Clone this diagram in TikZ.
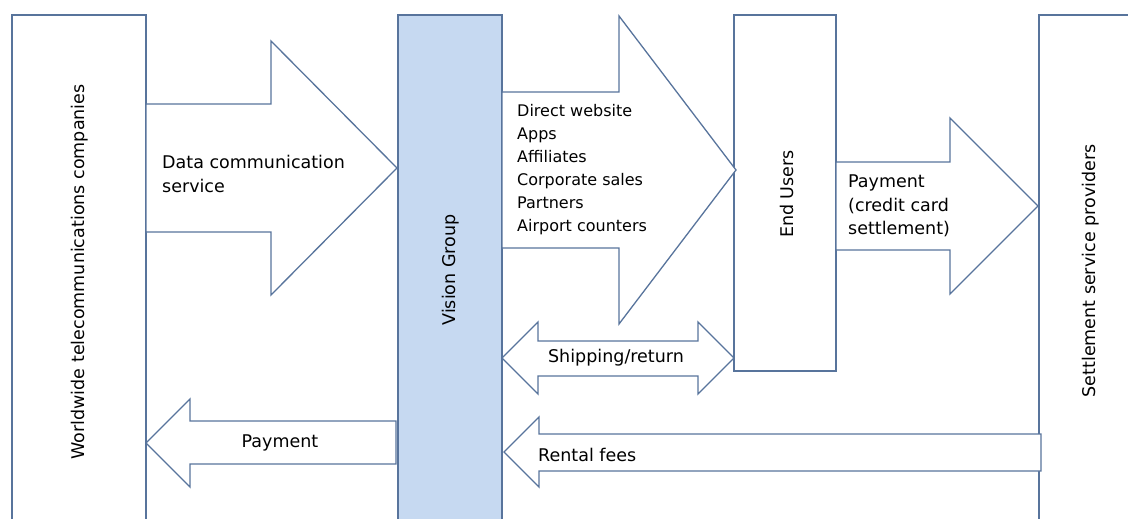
\documentclass[tikz,border=0pt]{standalone}
\usepackage{fontspec}
\setmainfont{DejaVu Sans}
\definecolor{edge}{RGB}{88,116,156}
\definecolor{vgfill}{RGB}{198,217,241}
\tikzset{
  ln/.style={draw=edge, line width=1.3pt, line join=miter},
  boxshape/.style={ln, fill=white},
  vgbox/.style={ln, fill=vgfill},
  blockarrow/.style={ln, fill=white},
  lbl/.style={inner sep=0pt, font=\fontsize{17.5}{23.5}\selectfont, text=black, align=left},
  smalllbl/.style={inner sep=0pt, font=\fontsize{16}{23}\selectfont, text=black, align=left},
  vlbl/.style={lbl, rotate=90, anchor=center}
}
\begin{document}
\begin{tikzpicture}[x=1pt,y=-1pt]
\useasboundingbox (0,0) rectangle (1128,519);
\clip (0,0) rectangle (1128,519);
% boxes
\path[boxshape] (12,545) -- (12,15) -- (146,15) -- (146,545);
\path[vgbox] (398,545) -- (398,15) -- (502,15) -- (502,545);
\path[boxshape] (734,15) rectangle (836,371);
\path[boxshape] (1039,545) -- (1039,15) -- (1150,15);
% block arrows
\path[blockarrow] (146,104) -- (271,104) -- (271,41) -- (397,168) -- (271,295) -- (271,232) -- (146,232) -- cycle;
\path[blockarrow] (502,92) -- (619,92) -- (619,16) -- (736,170) -- (619,324) -- (619,248) -- (502,248) -- cycle;
\path[blockarrow] (836,162) -- (950,162) -- (950,118) -- (1038,206) -- (950,294) -- (950,250) -- (836,250) -- cycle;
\path[blockarrow] (502,358) -- (538,322) -- (538,341) -- (698,341) -- (698,322) -- (734,358) -- (698,394) -- (698,376) -- (538,376) -- (538,394) -- cycle;
\path[blockarrow] (1041,434) -- (539,434) -- (539,417) -- (504,452) -- (539,487) -- (539,471) -- (1041,471) -- cycle;
\path[blockarrow] (396,421) -- (190,421) -- (190,399) -- (146,443) -- (190,487) -- (190,464) -- (396,464) -- cycle;
% labels
\node[vlbl] (ww) at (80,272) {Worldwide telecommunications companies};
\node[vlbl] (vg) at (451,270) {Vision Group};
\node[vlbl] (eu) at (787,194) {End Users};
\node[vlbl] (ssp) at (1091,271) {Settlement service providers};
\node[lbl, anchor=west] (dcs) at (162,174) {Data communication\\service};
\node[smalllbl, anchor=west] (ch) at (517,170) {Direct website\\Apps\\Affiliates\\Corporate sales\\Partners\\Airport counters};
\node[lbl, anchor=west] (pay2) at (848,206) {Payment\\(credit card\\settlement)};
\node[lbl] (ship) at (616,358) {Shipping/return};
\node[lbl, anchor=west] (rent) at (538,455) {Rental fees};
\node[lbl] (pay1) at (280,443) {Payment};
\end{tikzpicture}
\end{document}
